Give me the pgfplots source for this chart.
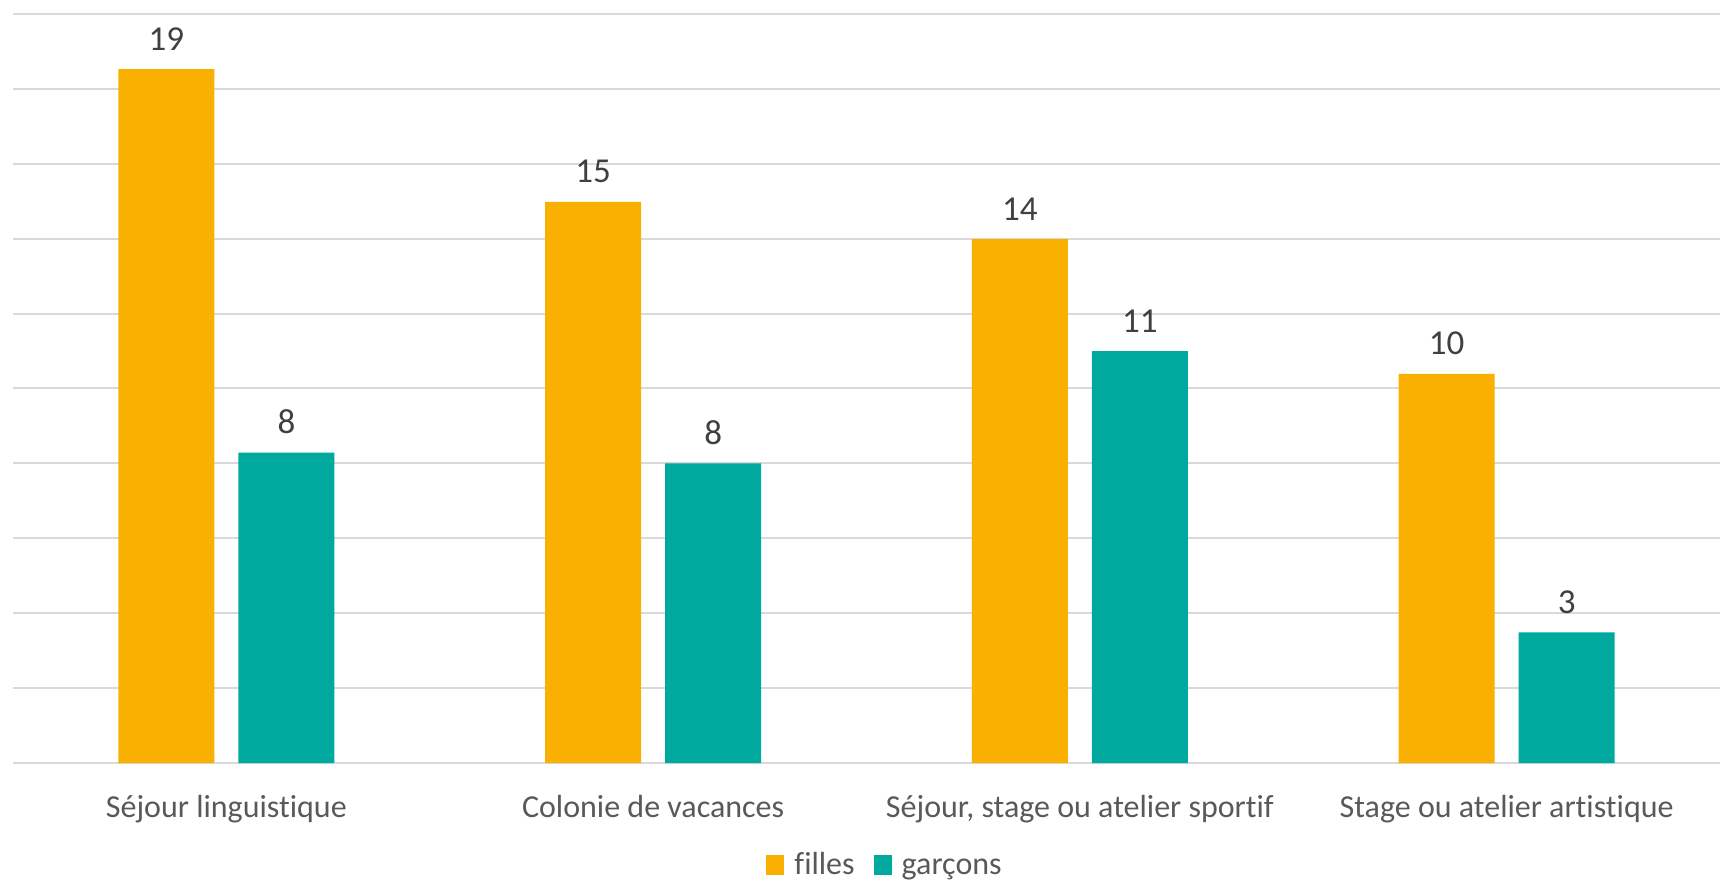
\documentclass[border=0pt]{standalone}
\usepackage{fontspec}
\setmainfont[Ligatures={NoCommon}]{Carlito}
\usepackage{pgfplots}
\pgfplotsset{compat=1.18}
\definecolor{filles}{HTML}{F9B000}
\definecolor{garcons}{HTML}{00A99D}
\definecolor{grille}{HTML}{D9D9D9}
\definecolor{etiq}{HTML}{595959}
\definecolor{valeur}{HTML}{404040}
\newcommand{\txt}{\fontsize{16}{19}\selectfont}
\newcommand{\val}{\fontsize{17.5}{21}\selectfont}

\begin{document}
\begin{tikzpicture}
\begin{axis}[
  name=ax, at={(0pt,0pt)}, anchor=south west,
  scale only axis, width=853.5pt, height=374.5pt,
  ybar=12pt, bar width=48pt,
  xmin=-0.5, xmax=3.5, ymin=0, ymax=20,
  xtick={0,1,2,3},
  xticklabels={Séjour linguistique, Colonie de vacances, {Séjour, stage ou atelier sportif}, Stage ou atelier artistique},
  ytick={0,2,...,20}, yticklabels={},
  ymajorgrids, grid style={grille, line width=1pt},
  axis line style={draw=none}, major tick length=0pt,
  xticklabel style={font=\txt, text=etiq, anchor=base, yshift=-27pt},
  nodes near coords, point meta=explicit symbolic,
  every node near coord/.append style={font=\val, text=valeur, anchor=base, yshift=9.5pt, inner sep=0pt},
  legend columns=-1,
  legend style={at={(0.5103,-0.1630)}, anchor=south, draw=none, fill=none,
    font=\txt, text=etiq, inner sep=0pt,
    nodes={inner sep=0pt, text depth=5pt, text height=15pt},
    /tikz/every odd column/.append style={column sep=5pt},
    /tikz/every even column/.append style={column sep=9.5pt}},
  legend image code/.code={\fill[#1] (0pt,-5pt) rectangle (9pt,5pt);},
]
\addplot[fill=filles, draw=none] coordinates {
  (0,18.53) [19] (1,14.98) [15] (2,13.99) [14] (3,10.39) [10]
};
\addlegendentry{filles}
\addplot[fill=garcons, draw=none] coordinates {
  (0,8.29) [8] (1,8.0) [8] (2,11.0) [11] (3,3.49) [3]
};
\addlegendentry{garçons}
\end{axis}
\pgfresetboundingbox
\useasboundingbox (-6.5pt,-60.5pt) rectangle (853.5pt,381.5pt);
\end{tikzpicture}
\end{document}
